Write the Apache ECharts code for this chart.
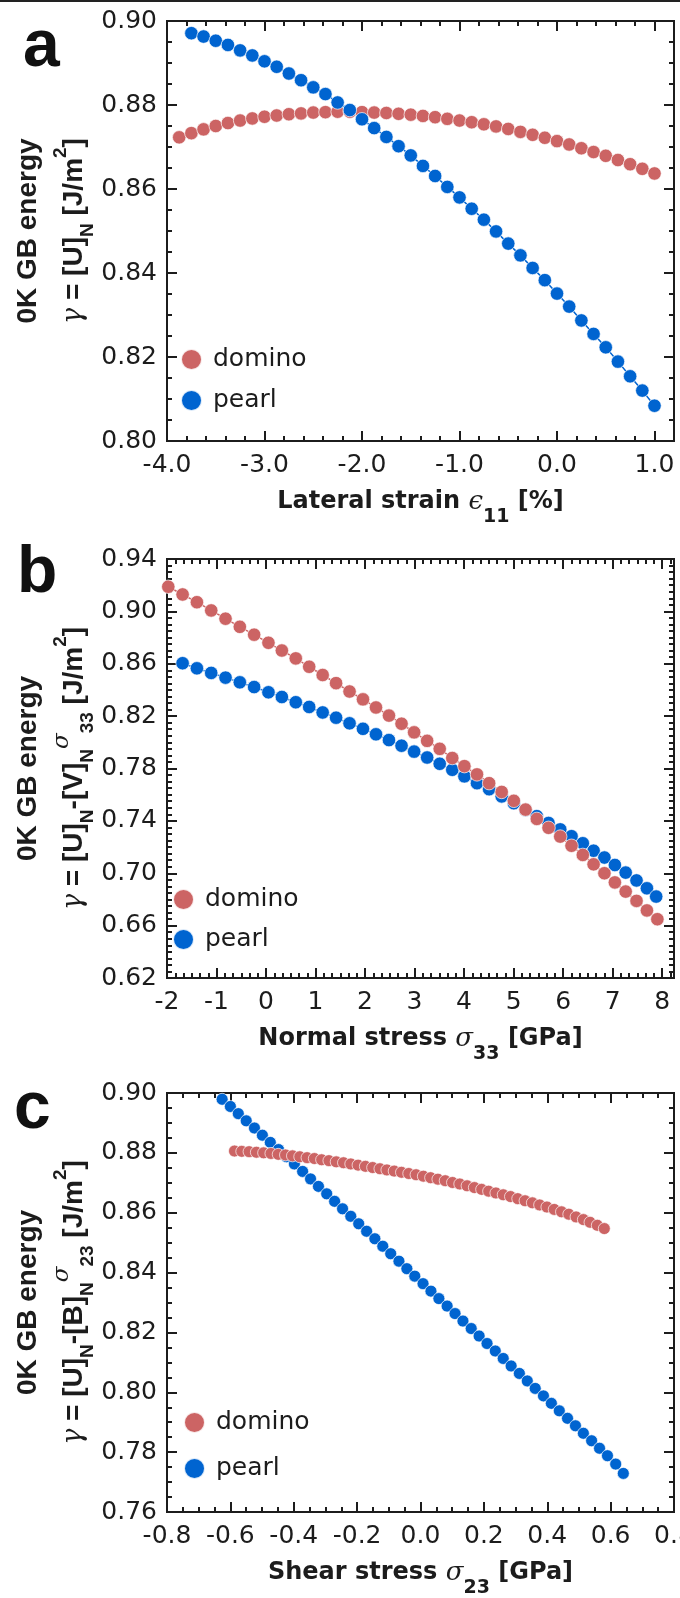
<!DOCTYPE html>
<html><head><meta charset="utf-8">
<script src="https://cdn.jsdelivr.net/npm/echarts@6/dist/echarts.min.js"></script>
<style>html,body{margin:0;padding:0;background:#fff}#c{width:680px;height:1598px}</style>
</head><body><div id="c"></div>
<script>
// ---------- data (panel a) ----------
const aDominoStrain = [-3.875,-3.75,-3.625,-3.5,-3.375,-3.25,-3.125,-3.0,-2.875,-2.75,-2.625,-2.5,-2.375,-2.25,-2.125,-2.0,-1.875,-1.75,-1.625,-1.5,-1.375,-1.25,-1.125,-1.0,-0.875,-0.75,-0.625,-0.5,-0.375,-0.25,-0.125,0.0,0.125,0.25,0.375,0.5,0.625,0.75,0.875,1.0];
const aDominoEnergy = [0.8723,0.8733,0.8742,0.8750,0.8757,0.8763,0.8768,0.8772,0.8775,0.8778,0.8780,0.8782,0.8783,0.8784,0.8784,0.8783,0.8782,0.8781,0.8779,0.8777,0.8774,0.8771,0.8767,0.8763,0.8759,0.8754,0.8749,0.8743,0.8736,0.8729,0.8722,0.8714,0.8706,0.8697,0.8688,0.8679,0.8669,0.8659,0.8648,0.8637];
const aPearlStrain = [-3.75,-3.625,-3.5,-3.375,-3.25,-3.125,-3.0,-2.875,-2.75,-2.625,-2.5,-2.375,-2.25,-2.125,-2.0,-1.875,-1.75,-1.625,-1.5,-1.375,-1.25,-1.125,-1.0,-0.875,-0.75,-0.625,-0.5,-0.375,-0.25,-0.125,0.0,0.125,0.25,0.375,0.5,0.625,0.75,0.875,1.0];
const aPearlEnergy = [0.8971,0.8963,0.8953,0.8943,0.8930,0.8918,0.8904,0.8891,0.8875,0.8859,0.8842,0.8826,0.8806,0.8788,0.8766,0.8745,0.8724,0.8702,0.8680,0.8655,0.8631,0.8605,0.8580,0.8553,0.8527,0.8499,0.8470,0.8442,0.8412,0.8383,0.8351,0.8320,0.8287,0.8255,0.8223,0.8189,0.8154,0.8120,0.8084];
// ---------- data (panel b) ----------
const bDominoStress = [-1.974,-1.685,-1.396,-1.107,-0.818,-0.529,-0.240,0.049,0.320,0.601,0.872,1.144,1.415,1.687,1.958,2.221,2.483,2.737,2.991,3.254,3.508,3.762,4.007,4.261,4.506,4.760,5.005,5.242,5.469,5.706,5.942,6.170,6.398,6.616,6.835,7.046,7.264,7.483,7.693,7.904];
const bDominoEnergy = [0.9188,0.9129,0.9070,0.9007,0.8944,0.8882,0.8822,0.8760,0.8701,0.8641,0.8577,0.8514,0.8452,0.8388,0.8328,0.8266,0.8204,0.8142,0.8076,0.8011,0.7950,0.7880,0.7818,0.7755,0.7688,0.7621,0.7553,0.7486,0.7415,0.7347,0.7280,0.7210,0.7140,0.7068,0.7000,0.6930,0.6860,0.6789,0.6716,0.6649];
const bPearlStress = [-1.685,-1.396,-1.107,-0.818,-0.529,-0.240,0.049,0.320,0.601,0.872,1.144,1.415,1.687,1.958,2.221,2.483,2.737,2.991,3.254,3.508,3.762,4.007,4.261,4.506,4.760,5.005,5.242,5.469,5.706,5.942,6.170,6.398,6.616,6.835,7.046,7.264,7.483,7.693,7.880];
const bPearlEnergy = [0.8604,0.8565,0.8530,0.8494,0.8458,0.8422,0.8382,0.8346,0.8306,0.8270,0.8228,0.8188,0.8145,0.8103,0.8061,0.8017,0.7974,0.7929,0.7884,0.7836,0.7790,0.7740,0.7688,0.7642,0.7587,0.7535,0.7483,0.7436,0.7384,0.7335,0.7283,0.7229,0.7172,0.7120,0.7063,0.7005,0.6945,0.6885,0.6822];
// ---------- data (panel c) ----------
const cDominoShear = [-0.587,-0.564,-0.541,-0.518,-0.495,-0.472,-0.449,-0.426,-0.404,-0.381,-0.358,-0.335,-0.312,-0.289,-0.266,-0.243,-0.220,-0.197,-0.174,-0.151,-0.128,-0.106,-0.083,-0.060,-0.037,-0.014,0.009,0.032,0.055,0.078,0.101,0.124,0.147,0.170,0.193,0.215,0.238,0.261,0.284,0.307,0.330,0.353,0.376,0.399,0.422,0.445,0.468,0.491,0.514,0.535,0.558,0.580];
const cDominoEnergy = [0.8806,0.8805,0.8804,0.8802,0.8800,0.8798,0.8795,0.8793,0.8790,0.8787,0.8784,0.8781,0.8777,0.8774,0.8770,0.8767,0.8763,0.8759,0.8755,0.8751,0.8747,0.8743,0.8739,0.8735,0.8731,0.8727,0.8722,0.8717,0.8712,0.8707,0.8701,0.8696,0.8690,0.8684,0.8678,0.8672,0.8666,0.8660,0.8654,0.8647,0.8640,0.8633,0.8626,0.8619,0.8611,0.8603,0.8595,0.8586,0.8577,0.8568,0.8558,0.8547];
const cPearlShear = [-0.626,-0.600,-0.575,-0.550,-0.524,-0.499,-0.474,-0.448,-0.423,-0.398,-0.372,-0.347,-0.322,-0.296,-0.271,-0.246,-0.220,-0.195,-0.170,-0.144,-0.119,-0.094,-0.068,-0.043,-0.018,0.008,0.033,0.058,0.084,0.109,0.134,0.160,0.185,0.210,0.236,0.261,0.286,0.312,0.337,0.362,0.388,0.413,0.438,0.464,0.489,0.514,0.540,0.565,0.590,0.616,0.640];
const cPearlEnergy = [0.8979,0.8955,0.8931,0.8907,0.8883,0.8859,0.8835,0.8811,0.8787,0.8763,0.8738,0.8713,0.8688,0.8663,0.8638,0.8613,0.8588,0.8563,0.8538,0.8513,0.8488,0.8463,0.8438,0.8413,0.8388,0.8363,0.8338,0.8313,0.8288,0.8263,0.8238,0.8213,0.8188,0.8163,0.8138,0.8113,0.8088,0.8063,0.8038,0.8013,0.7988,0.7963,0.7938,0.7913,0.7888,0.7863,0.7838,0.7813,0.7788,0.7760,0.7729];
// ---------- axis ranges / tick steps ----------
const xRanges = [[-4, 1.2], [-2, 8.24], [-0.8, 0.8]];
const xSteps  = [[1, 0.2], [1, 1/6], [0.2, 0.05]];
const xDecimals = [1, 0, 1];
const yRanges = [[0.80, 0.90], [0.62, 0.94], [0.76, 0.90]];
const ySteps  = [[0.02, 0.005], [0.04, 0.005], [0.02, 0.005]];
const seriesNames = ['domino', 'pearl'];
const panelLetters = ['a', 'b', 'c'];

const RED = '#CC6464', BLUE = '#0064D0', INK = '#1c1c1c';
const TF = 'DejaVu Sans';

const xNames = [
  '{b|Lateral strain }{e|ϵ}{s|11}{b| [%]}',
  '{b|Normal stress }{e|σ}{s|33}{b| [GPa]}',
  '{b|Shear stress }{e|σ}{s|23}{b| [GPa]}'
];
const yNames = [
  '{h|0K GB energy}\n{g|γ}{b| = [U]}{s|N}{b| [J/m}{p|2}{b|]}',
  '{h|0K GB energy}\n{g|γ}{b| = [U]}{s|N}{b|-[V]}{s|N}{q|σ}{s|33}{b| [J/m}{p|2}{b|]}',
  '{h|0K GB energy}\n{g|γ}{b| = [U]}{s|N}{b|-[B]}{s|N}{q|σ}{s|23}{b| [J/m}{p|2}{b|]}'
];
const xRich = {
  b: {fontFamily: TF, fontWeight: 'bold', fontSize: 24, lineHeight: 50, color: INK},
  e: {fontFamily: 'DejaVu Serif', fontStyle: 'italic', fontSize: 26, lineHeight: 50, color: INK},
  s: {fontFamily: TF, fontWeight: 'bold', fontSize: 19, lineHeight: 16, verticalAlign: 'bottom', color: INK}
};
const yRich = {
  h: {fontFamily: 'Liberation Sans', fontWeight: 'bold', fontSize: 28, lineHeight: 46, color: INK},
  b: {fontFamily: 'Liberation Sans', fontWeight: 'bold', fontSize: 28, lineHeight: 46, color: INK},
  g: {fontFamily: 'DejaVu Serif', fontStyle: 'italic', fontSize: 27, lineHeight: 46, color: INK},
  s: {fontFamily: 'Liberation Sans', fontWeight: 'bold', fontSize: 19, lineHeight: 18, verticalAlign: 'bottom', color: INK},
  p: {fontFamily: 'Liberation Sans', fontWeight: 'bold', fontSize: 19, lineHeight: 33, verticalAlign: 'top', color: INK},
  q: {fontFamily: 'DejaVu Serif', fontStyle: 'italic', fontSize: 23, lineHeight: 35, verticalAlign: 'top', color: INK}
};

const gridRects = [
  {left: 167, top: 21, width: 507, height: 420},
  {left: 167, top: 559, width: 507, height: 419},
  {left: 167, top: 1093, width: 507, height: 419}
];
const legendPos = [
  {left: 180, top: 347, itemGap: 16},
  {left: 172, top: 887, itemGap: 15},
  {left: 183, top: 1410, itemGap: 21}
];
const symSizes = [13.5, 13.5, 12];
const seriesData = [
  [[aDominoStrain, aDominoEnergy], [aPearlStrain, aPearlEnergy]],
  [[bDominoStress, bDominoEnergy], [bPearlStress, bPearlEnergy]],
  [[cDominoShear, cDominoEnergy], [cPearlShear, cPearlEnergy]]
];

const line = {show: true, onZero: false, lineStyle: {color: INK, width: 2}};
function isMult(v, step) { const r = v / step; return Math.abs(r - Math.round(r)) < 1e-6; }

const grid = [], xAxis = [], yAxis = [], series = [], legend = [], graphic = [];

for (let p = 0; p < 3; p++) {
  const g = gridRects[p];
  grid.push(Object.assign({containLabel: false, outerBoundsMode: 'none'}, g));
  grid.push(Object.assign({containLabel: false, outerBoundsMode: 'none'}, g));
  const [xmin, xmax] = xRanges[p], [xmaj, xmin2] = xSteps[p];
  const [ymin, ymax] = yRanges[p], [ymaj, ymin2] = ySteps[p];
  const dec = xDecimals[p];
  const xfmt = v => isMult(v - xmin, xmaj) ? (Math.round(v * 10) / 10 + 0).toFixed(dec) : '';
  const yfmt = v => isMult(v - ymin, ymaj) ? (Math.round(v * 100) / 100).toFixed(2) : '';
  const mkX = (gi, pos, iv, len, fmt, name) => ({
    type: 'value', gridIndex: gi, position: pos, min: xmin, max: xmax, interval: iv,
    axisLine: line,
    axisTick: {show: true, inside: true, length: len, lineStyle: {color: INK, width: 2}},
    axisLabel: fmt ? {show: true, formatter: fmt, margin: 12, fontSize: 25, fontFamily: TF, color: INK, showMinLabel: true, showMaxLabel: true} : {show: false},
    splitLine: {show: false}, minorTick: {show: false},
    name: name || '', nameLocation: 'middle', nameGap: 36, nameMoveOverlap: false,
    nameTextStyle: {rich: xRich}
  });
  const mkY = (gi, pos, iv, len, fmt, name) => ({
    type: 'value', gridIndex: gi, position: pos, min: ymin, max: ymax, interval: iv,
    axisLine: line,
    axisTick: {show: true, inside: true, length: len, lineStyle: {color: INK, width: 2}},
    axisLabel: fmt ? {show: true, formatter: fmt, margin: 10, fontSize: 25, fontFamily: TF, color: INK, showMinLabel: true, showMaxLabel: true} : {show: false},
    splitLine: {show: false}, minorTick: {show: false},
    name: name || '', nameLocation: 'middle', nameRotate: 90, nameGap: 70, nameMoveOverlap: false,
    nameTextStyle: {rich: yRich, align: 'center'}
  });
  xAxis.push(mkX(2 * p, 'bottom', xmaj, 10, xfmt, xNames[p]));
  xAxis.push(mkX(2 * p, 'top', xmaj, 10, null, ''));
  xAxis.push(mkX(2 * p + 1, 'bottom', xmin2, 5, null, ''));
  xAxis.push(mkX(2 * p + 1, 'top', xmin2, 5, null, ''));
  yAxis.push(mkY(2 * p, 'left', ymaj, 10, yfmt, yNames[p]));
  yAxis.push(mkY(2 * p, 'right', ymaj, 10, null, ''));
  yAxis.push(mkY(2 * p + 1, 'left', ymin2, 5, null, ''));
  yAxis.push(mkY(2 * p + 1, 'right', ymin2, 5, null, ''));

  const order = p === 0 ? [0, 1] : [1, 0];
  order.forEach(k => {
    const col = k === 0 ? RED : BLUE;
    const [xs, ys] = seriesData[p][k];
    series.push({
      type: 'line', name: seriesNames[k], xAxisIndex: 4 * p, yAxisIndex: 4 * p,
      data: xs.map((x, i) => [x, ys[i]]),
      symbol: 'circle', symbolSize: symSizes[p], showSymbol: true,
      lineStyle: {color: col, width: 1.5},
      itemStyle: {color: col, borderColor: 'rgba(255,255,255,0.85)', borderWidth: 0.8},
      emphasis: {disabled: true}, silent: true, animation: false, z: 3
    });
  });
  const lp = legendPos[p];
  legend.push({
    data: seriesNames, orient: 'vertical', left: lp.left, top: lp.top, itemGap: lp.itemGap,
    padding: 0, icon: 'circle', itemWidth: 33, itemHeight: 21, selectedMode: false,
    textStyle: {fontSize: 25, fontFamily: TF, color: INK, lineHeight: 25}
  });
}

graphic.push({type: 'rect', shape: {x: 0, y: 0, width: 680, height: 2}, style: {fill: '#222'}});
const letterPos = [[23, 81], [17, 607], [14, 1143]];
panelLetters.forEach((t, i) => graphic.push({
  type: 'text', x: letterPos[i][0], y: letterPos[i][1],
  style: {text: t, font: 'bold 66px "Liberation Sans"', fill: '#111', verticalAlign: 'bottom', align: 'left'}
}));

const chart = echarts.init(document.getElementById('c'), null, {renderer: 'canvas'});
chart.setOption({animation: false, backgroundColor: '#fff', grid, xAxis, yAxis, series, legend, graphic});
</script></body></html>
